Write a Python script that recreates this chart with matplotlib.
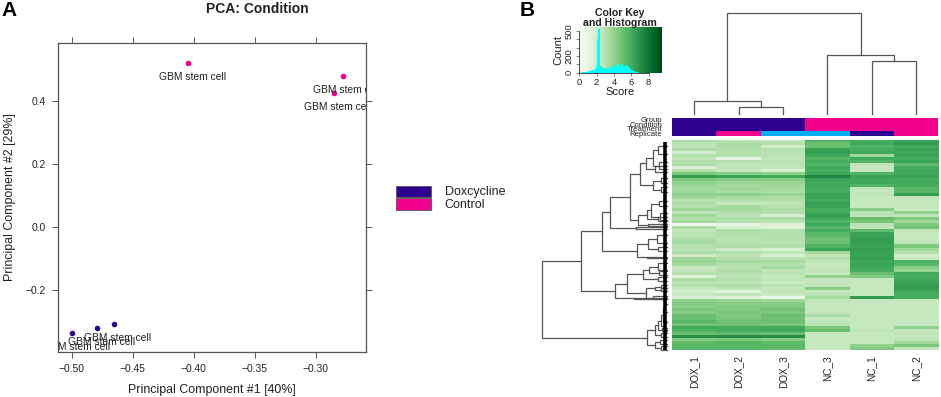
import numpy as np
import matplotlib
matplotlib.use('Agg')
import matplotlib.pyplot as plt
from matplotlib.colors import ListedColormap
from matplotlib.patches import Patch

plt.rcParams['font.family'] = ['Liberation Sans', 'DejaVu Sans']

W, H = 941, 397

# axes placed by pixel box (left, top, right, bottom)
def ax_px(x0, y0, x1, y1):
    return fig.add_axes([x0 / W, 1 - y1 / H, (x1 - x0) / W, (y1 - y0) / H])

#############
############# Data
#############

# PCA scores
pc1_dox = [-0.4995, -0.479, -0.4655]
pc2_dox = [-0.337, -0.321, -0.307]
pc1_ctl = [-0.4046, -0.278, -0.285]
pc2_ctl = [0.522, 0.479, 0.425]
sample_label = 'GBM stem cell'
pca_xticks = [-0.50, -0.45, -0.40, -0.35, -0.30]
pca_yticks = [-0.2, 0.0, 0.2, 0.4]

# heatmap, top row first
samples = ['DOX_1', 'DOX_2', 'DOX_3', 'NC_3', 'NC_1', 'NC_2']
heat_rows = [
    [3.2, 3.0, 2.7, 5.5, 5.8, 6.2],
    [2.8, 3.2, 3.0, 5.0, 6.0, 6.5],
    [2.6, 3.2, 2.0, 5.0, 5.5, 6.0],
    [3.2, 3.0, 3.0, 6.3, 5.8, 6.2],
    [1.8, 3.0, 2.8, 6.5, 6.0, 6.0],
    [3.0, 3.0, 2.8, 6.0, 3.6, 6.2],
    [2.6, 1.2, 2.6, 5.5, 6.0, 5.8],
    [3.0, 3.0, 2.8, 5.8, 5.5, 6.2],
    [3.2, 2.6, 2.8, 5.5, 2.6, 5.2],
    [1.8, 2.6, 2.6, 6.0, 2.4, 5.8],
    [3.0, 2.4, 1.7, 5.8, 2.4, 6.0],
    [4.5, 4.2, 4.0, 6.0, 5.6, 6.0],
    [6.5, 6.2, 6.0, 7.2, 6.2, 6.2],
    [4.5, 4.2, 4.2, 6.3, 6.0, 5.8],
    [4.0, 3.8, 3.8, 6.0, 6.0, 6.0],
    [3.8, 3.4, 3.6, 6.0, 5.6, 5.8],
    [3.4, 3.6, 3.4, 5.8, 2.6, 5.4],
    [3.6, 3.2, 3.2, 5.8, 2.5, 5.4],
    [4.0, 4.0, 3.8, 6.2, 2.6, 6.4],
    [3.6, 3.4, 3.2, 6.2, 2.4, 2.6],
    [2.8, 3.0, 3.0, 6.0, 2.4, 2.4],
    [3.2, 2.4, 2.6, 6.4, 2.4, 2.4],
    [3.0, 3.4, 3.0, 6.2, 2.4, 2.5],
    [3.6, 3.4, 3.2, 5.8, 4.2, 2.4],
    [2.6, 3.0, 3.0, 6.0, 2.8, 4.0],
    [3.6, 2.8, 1.6, 6.4, 2.6, 2.6],
    [3.0, 3.2, 3.2, 6.0, 5.0, 4.4],
    [3.6, 3.0, 2.8, 5.6, 4.6, 3.6],
    [0.8, 1.2, 1.5, 6.0, 2.8, 4.5],
    [3.2, 1.8, 1.5, 5.4, 2.6, 4.8],
    [2.6, 3.2, 3.0, 5.8, 5.2, 2.6],
    [2.8, 3.0, 3.0, 5.4, 6.2, 2.4],
    [2.8, 3.0, 3.0, 5.2, 6.2, 2.4],
    [3.2, 2.8, 3.0, 4.8, 6.4, 2.4],
    [3.4, 3.0, 2.8, 5.0, 6.4, 2.6],
    [3.0, 3.2, 3.0, 5.6, 6.2, 4.5],
    [2.8, 2.0, 1.8, 6.2, 6.4, 3.5],
    [3.2, 3.0, 2.6, 3.6, 6.2, 3.0],
    [2.0, 2.6, 1.8, 2.6, 6.2, 2.0],
    [3.6, 3.0, 2.8, 3.0, 6.4, 2.4],
    [3.8, 3.4, 3.4, 2.6, 6.0, 5.6],
    [3.4, 3.0, 3.0, 2.4, 6.2, 5.4],
    [2.4, 2.8, 3.4, 2.4, 6.0, 4.2],
    [2.6, 3.2, 2.6, 2.6, 5.8, 3.8],
    [3.0, 3.0, 2.8, 2.4, 5.0, 6.0],
    [1.4, 2.8, 2.4, 4.0, 4.4, 5.8],
    [3.2, 3.0, 2.6, 2.4, 2.4, 6.0],
    [2.8, 2.6, 2.2, 2.6, 2.4, 6.2],
    [3.0, 3.2, 2.8, 2.6, 2.4, 6.4],
    [2.4, 2.6, 2.4, 4.2, 2.4, 6.4],
    [2.0, 1.4, 2.6, 2.4, 2.4, 6.0],
    [2.4, 2.6, 2.2, 2.8, 2.4, 5.8],
    [1.6, 1.4, 0.8, 3.4, 6.5, 5.8],
    [4.0, 3.8, 3.6, 2.6, 2.4, 2.4],
    [4.4, 4.2, 4.2, 2.4, 2.4, 2.4],
    [4.2, 4.4, 4.4, 2.4, 2.4, 2.4],
    [4.6, 4.4, 4.8, 2.4, 2.4, 2.4],
    [4.2, 4.6, 4.6, 2.6, 2.4, 2.4],
    [5.0, 4.4, 5.0, 3.2, 2.4, 2.4],
    [5.0, 4.6, 4.8, 2.4, 2.4, 2.4],
    [5.4, 4.8, 5.0, 2.6, 2.4, 2.4],
    [4.8, 4.8, 4.6, 2.8, 2.4, 2.4],
    [6.0, 5.8, 6.0, 4.6, 2.4, 4.0],
    [5.6, 5.8, 6.0, 5.0, 2.6, 2.4],
    [5.0, 5.2, 5.0, 2.4, 2.4, 2.6],
    [7.0, 7.0, 7.0, 2.4, 2.4, 2.4],
    [4.4, 4.6, 4.2, 2.4, 2.4, 2.6],
    [5.2, 5.4, 5.2, 2.4, 2.4, 3.6],
    [5.4, 5.4, 5.4, 2.4, 4.0, 4.6],
    [5.4, 5.4, 5.2, 2.4, 4.4, 2.5],
]

# side bars, 0 navy, 1 pink, 2 cyan
bar_names = ['Group', 'Condition', 'Treatment', 'Replicate']
bar_group = [0, 0, 0, 1, 1, 1]
bar_condition = [0, 0, 0, 1, 1, 1]
bar_treatment = [0, 0, 0, 1, 1, 1]
bar_replicate = [0, 1, 2, 2, 0, 1]

# dendrograms: (height, child, child); a bare number is a leaf at that position
col_tree = (101, (13, 0.5, (7.3, 1.5, 2.5)), (59, 3.5, (53, 4.5, 5.5)))

tree_c = (27, (21, (14, (9, 146, 154), (8, 162, 169)), (12, 166, 172)),
          (14, (6, 178, 183), (6, 187, 192)))
tree_e = (29, (20, (16, (8, 201, 206), (7, 213, 220)), (9, 217, 221)),
          (19, 224, 226))
tree_a = (65, (57, (37, tree_c, tree_e), (31, 226.8, 228.6)),
          (30, (19, (10, 235, 243), (9, 247, 251)), (20, 256.5, 257.5)))
tree_g = (52, (40, (24, (18, (9, 263, 270), (8, 271, 275)), (9, 277, 281)),
               (21, (12, (6, 285, 288), (6, 288, 291)), (14, 296, 299))),
          (33, 297.6, 299))
tree_h = (20, (12, (9, (6, (4, (3, 304, 312), 322), (3, 322, 330)), (5, 328, 331)),
               (6, 333, 337)),
          (12, (7, 340, 344), (6, 346, 350)))
row_tree = (125, (86, tree_a, tree_g), tree_h)

# color key histogram
hist_edges = [0.0, 0.2, 0.6, 1.0, 1.4, 1.8, 2.0, 2.2, 2.4, 2.6, 2.8, 3.0, 3.2, 3.4, 3.6, 3.8,
              4.0, 4.2, 4.4, 4.6, 4.8, 5.0, 5.2, 5.4, 5.6, 5.8, 6.0, 6.2, 6.4, 6.6, 6.8, 7.0, 7.4]
hist_counts = [2, 5, 12, 20, 35, 60, 400, 530, 80, 60, 40, 55, 50, 70, 60, 80,
               85, 70, 105, 80, 100, 70, 85, 90, 70, 50, 35, 20, 10, 5, 2, 1]

legend_names = ['Doxcycline', 'Control']

NAVY = '#2e0090'
PINK = '#f0008c'
CYAN = '#00aeef'
GREY = '#555555'
TEXT = '#222222'

#############
############# Helpers
#############

# draws one bracket per node, returns (position, height) of the node
def draw_tree(ax, node, sideways=False):
    if not isinstance(node, tuple):
        return node, 0
    h, left, right = node
    p1, h1 = draw_tree(ax, left, sideways)
    p2, h2 = draw_tree(ax, right, sideways)
    hs = [h1, h, h, h2]
    ps = [p1, p1, p2, p2]
    if sideways:
        ax.plot(hs, ps, color=GREY, lw=0.9, solid_joinstyle='miter', clip_on=False)
    else:
        ax.plot(ps, hs, color=GREY, lw=0.9, solid_joinstyle='miter', clip_on=False)
    return (p1 + p2) / 2, h

fig = plt.figure(figsize=(W / 100, H / 100), dpi=100)

#############
############# Panel A
#############

ax = ax_px(57.5, 43, 366, 352)
ax.scatter(pc1_ctl, pc2_ctl, s=16, color=PINK, zorder=3, linewidths=0)
ax.scatter(pc1_dox, pc2_dox, s=16, color=NAVY, zorder=3, linewidths=0)
for x, y in zip(pc1_ctl + pc1_dox, pc2_ctl + pc2_dox):
    ax.annotate(sample_label, (x, y), xytext=(4, -14), textcoords='offset pixels',
                ha='center', va='center', fontsize=7.4, color=TEXT, clip_on=True,
                annotation_clip=False)
ax.set_xlim(-0.5116, -0.2588)
ax.set_ylim(-0.397, 0.584)
ax.set_xticks(pca_xticks)
ax.set_yticks(pca_yticks)
ax.xaxis.set_major_formatter(plt.FuncFormatter(lambda v, p: ('%.2f' % v).replace('-', '\u2212')))
ax.yaxis.set_major_formatter(plt.FuncFormatter(lambda v, p: ('%.1f' % v).replace('-', '\u2212')))
ax.tick_params(top=True, right=True, direction='out', length=4.5, width=0.7, color=GREY,
               labelsize=7.4, labelcolor=TEXT, pad=4)
for s in ax.spines.values():
    s.set_color(GREY)
    s.set_linewidth(0.9)
ax.set_xlabel('Principal Component #1 [40%]', fontsize=8.9, color=TEXT, labelpad=7)
ax.set_ylabel('Principal Component #2 [29%]', fontsize=8.9, color=TEXT, labelpad=7)
fig.text(257 / W, 1 - 9 / H, 'PCA: Condition', ha='center', va='center',
         fontsize=10, fontweight='bold', color=TEXT)

fig.legend(handles=[Patch(facecolor=NAVY, edgecolor=GREY, linewidth=0.6),
                    Patch(facecolor=PINK, edgecolor=GREY, linewidth=0.6)],
           labels=legend_names, loc='upper left', bbox_to_anchor=(396 / W, 1 - 185.5 / H),
           borderaxespad=0, borderpad=0, frameon=False, fontsize=9, labelcolor=TEXT,
           handlelength=2.8, handleheight=1.0, handletextpad=1.1, labelspacing=0)

fig.text(9 / W, 1 - 10 / H, 'A', ha='center', va='center', fontsize=15, fontweight='bold')
fig.text(527 / W, 1 - 10 / H, 'B', ha='center', va='center', fontsize=15, fontweight='bold')

#############
############# Panel B: color key
#############

key = ax_px(579.3, 26.7, 661.7, 72.7)
score = np.linspace(0, 9.5, 60)
key.pcolormesh(np.append(score, 9.66), [0, 552], score[None, :], cmap='Greens', vmin=0, vmax=9.5)
key.stairs(hist_counts, hist_edges, fill=True, color='#00ffff')
key.set_xlim(0, 9.5)
key.set_ylim(0, 552)
key.set_xticks([0, 2, 4, 6, 8])
key.set_yticks([0, 100, 200, 300, 400, 500])
key.set_yticklabels(['0', '', '200', '', '', '500'], rotation=90, va='center')
key.tick_params(length=2.5, width=0.5, color=GREY, labelsize=6.8, labelcolor=TEXT, pad=1.5)
for s in key.spines.values():
    s.set_visible(False)
key.spines['left'].set_visible(True)
key.spines['left'].set_bounds(0, 500)
key.spines['bottom'].set_visible(True)
key.spines['bottom'].set_bounds(0, 8)
key.spines['left'].set_linewidth(0.5)
key.spines['bottom'].set_linewidth(0.5)
key.set_xlabel('Score', fontsize=8, color=TEXT, labelpad=0)
key.set_ylabel('Count', fontsize=8, color=TEXT, labelpad=1)
fig.text(620 / W, 1 - 13 / H, 'Color Key', ha='center', va='center', fontsize=7.6, fontweight='bold', color=TEXT)
fig.text(620 / W, 1 - 23.5 / H, 'and Histogram', ha='center', va='center', fontsize=7.6, fontweight='bold', color=TEXT)

#############
############# Panel B: column dendrogram, side bars, heatmap
#############

top = ax_px(672, 13, 938.3, 114)
draw_tree(top, col_tree)
top.set_xlim(0, 6)
top.set_ylim(0, 101)
top.axis('off')

bars = ax_px(672, 117.7, 938.3, 135.5)
bar_rows = np.array([bar_group, bar_condition, bar_treatment, bar_replicate])
bars.pcolormesh(np.arange(7), np.arange(5), bar_rows, cmap=ListedColormap([NAVY, PINK, CYAN]),
                vmin=0, vmax=2)
bars.set_ylim(4, 0)
bars.set_xticks([])
bars.set_yticks(np.arange(4) + 0.5)
bars.set_yticklabels(bar_names, fontsize=5.6, color=TEXT, linespacing=1)
bars.tick_params(length=0, pad=7)
for s in bars.spines.values():
    s.set_visible(False)

hm = ax_px(672, 139.5, 938.3, 350)
hm.imshow(np.array(heat_rows), cmap='Greens', vmin=0, vmax=9.5, aspect='auto',
          interpolation='nearest', extent=(0, 6, len(heat_rows), 0))
hm.set_xticks(np.arange(6) + 0.5)
hm.set_xticklabels(samples, rotation=90, fontsize=7.2, color=TEXT)
hm.set_yticks([])
hm.tick_params(length=0, pad=3.5)
for s in hm.spines.values():
    s.set_visible(False)

#############
############# Panel B: row dendrogram, on the same vertical span as the heatmap
#############

side = ax_px(542, 139.5, 667, 350)
draw_tree(side, row_tree, sideways=True)
side.vlines(1.6, 142, 350, color='black', lw=2.6)
side.set_xlim(125, 0)
side.set_ylim(350, 139.5)
side.axis('off')

fig.savefig('out.png', dpi=100)
